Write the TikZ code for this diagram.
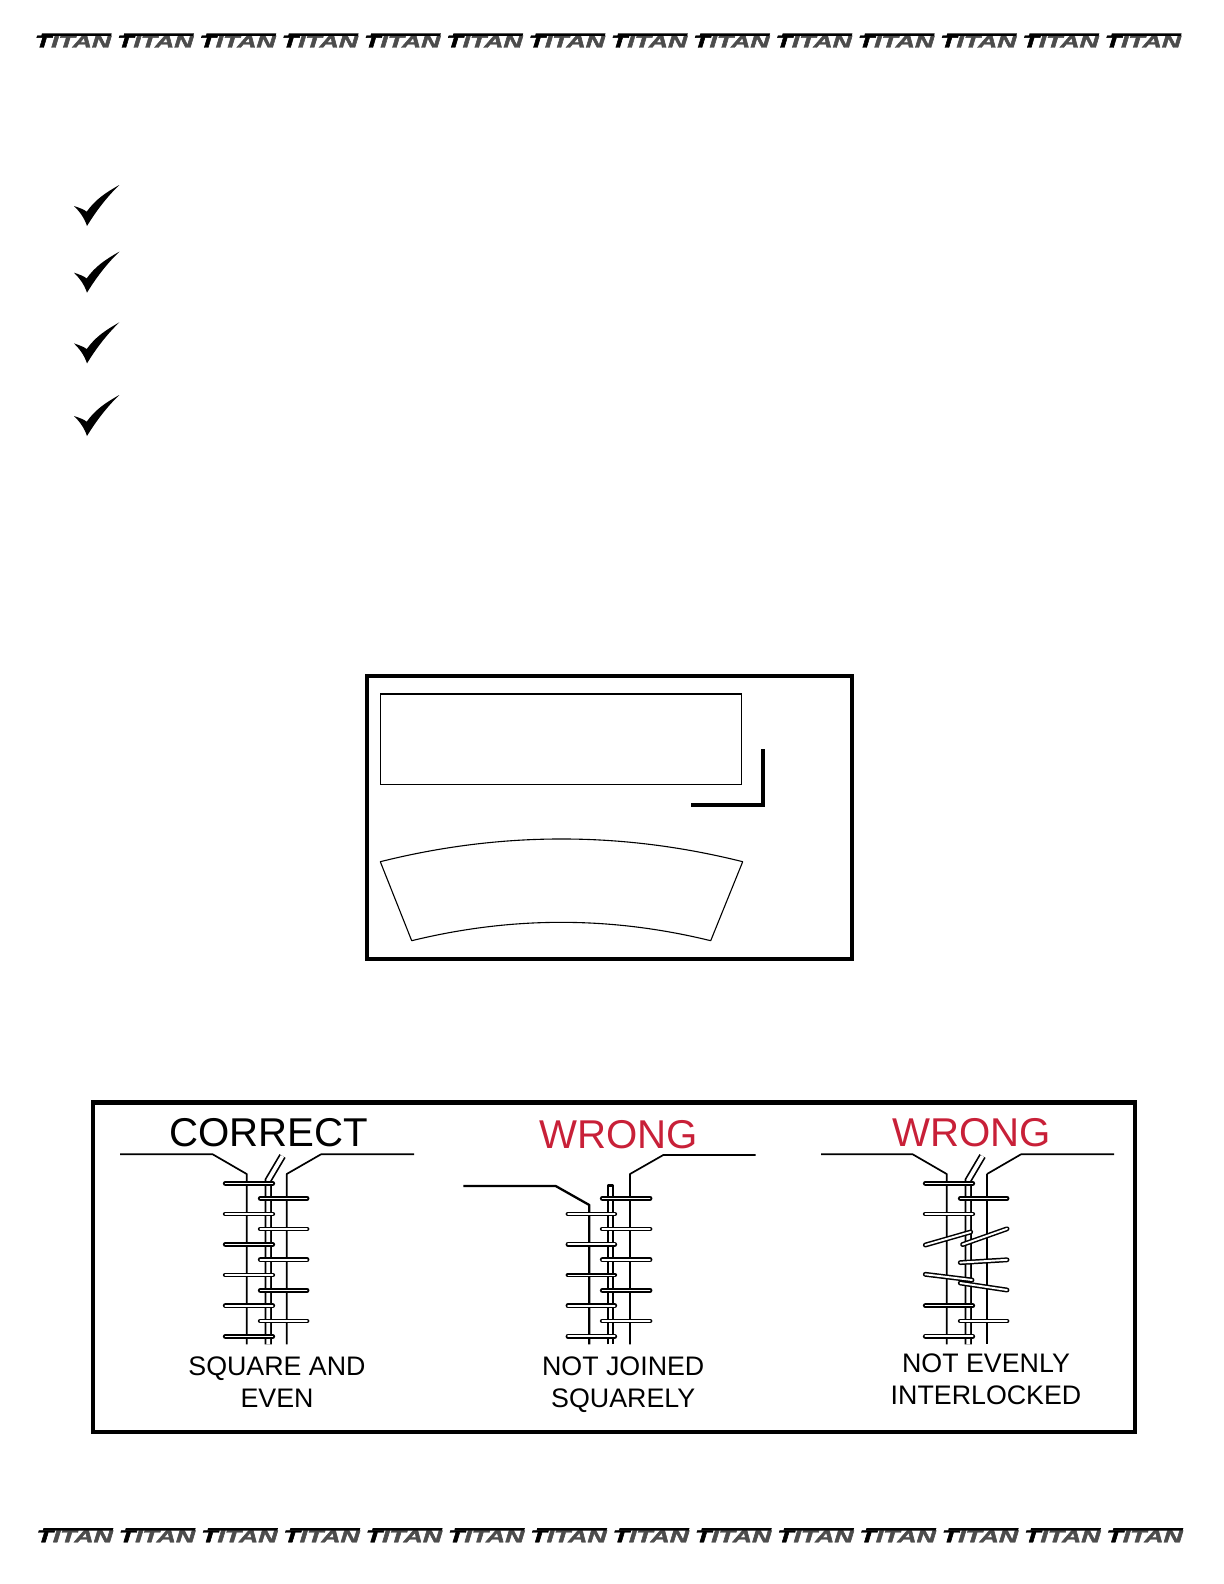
\documentclass[tikz,border=0pt]{standalone}
\usepackage{xcolor}
\usepackage{fontspec}
\setmainfont{Liberation Sans}
\newfontfamily\logofont[BoldItalicFeatures={FakeBold=2.2}]{Liberation Sans}
\usetikzlibrary{positioning}
\definecolor{wrongred}{RGB}{200,32,56}

\begin{document}
\begin{tikzpicture}[
    x=0.5pt, y=-0.5pt,
    frame/.style={draw, line width=2.15pt},
    thinbox/.style={draw, line width=0.55pt},
    edge/.style={draw, line width=0.85pt, line join=round},
    edgeb/.style={draw, line width=1.15pt, line join=round},
    tube/.style={draw, line width=0.85pt, double, double distance=1.9pt},
    rung/.style={draw, line cap=round, line width=0.75pt, double, double distance=0.95pt},
    rungdark/.style={draw, line cap=round, line width=1pt, double, double distance=0.45pt},
    head/.style={font=\fontsize{20.1}{22}\selectfont},
    capt/.style={font=\fontsize{13.4}{16}\selectfont, align=center},
    logotxt/.style={font=\fontsize{8.5}{9}\logofont\bfseries\itshape\selectfont, inner sep=0pt,
                text=black!70, transform shape, xscale=1.56},
    tick/.pic={\fill[black] (0,0) .. controls (6,2) and (10,3.5) .. (12.7,5.7)
        .. controls (21,-6) and (31,-13) .. (45.3,-21)
        .. controls (35,-11) and (24,2) .. (13,20)
        .. controls (10,11) and (5,5) .. (0,0) -- cycle;}
]
\useasboundingbox (0,0) rectangle (1224,1584);

% --- Logo strips ---
\foreach \i in {0,...,13} {
    \node[logotxt] (logotop\i) at (73+\i*82.3,41.6) {{\color{black}T}ITAN};
    \node[logotxt] (logobot\i) at (74.7+\i*82.3,1536.4) {{\color{black}T}ITAN};
    \fill (42+\i*82.3,33.3) -- (111.7+\i*82.3,33.3) -- (111+\i*82.3,35.8) -- (41.3+\i*82.3,35.8) -- cycle;
    \fill (43.5+\i*82.3,1528) -- (113.4+\i*82.3,1528) -- (112.7+\i*82.3,1530.5) -- (42.8+\i*82.3,1530.5) -- cycle;
}

% --- Check marks ---
\foreach \y in {206,272.7,343.4,416}
    \pic at (74,\y) {tick};

% --- Cut shapes ---
\draw[frame] (367,676) rectangle (852,959);
\draw[thinbox] (380.5,694) rectangle (741.7,784.5);
\draw[draw, line width=1.9pt, line join=miter] (691,805) -- (763,805) -- (763,749);
\draw[thinbox, line join=round] (380.3,861.7) .. controls (501.2,831.4) and (621.8,831.4) .. (742.7,861.7)
    -- (710.7,940.7) .. controls (610.7,916.2) and (511.7,916.2) .. (411.7,940.7) -- cycle;

% --- Seam panel ---
\draw[frame] (93,1102.5) rectangle (1135.3,1432);

% Correct
\node[head] (correct) at (268.7,1132.5) {CORRECT};
\draw[edge] (120,1154.3) -- (212.7,1154.3) -- (246.7,1174) -- (246.7,1344.3);
\draw[edge] (414,1154.3) -- (321,1154.3) -- (286.7,1174) -- (286.7,1344.3);
\draw[tube] (268.3,1344.3) -- (268.3,1180) -- (282.5,1156);
\foreach \y/\s in {1183.3/rungdark,1214/rung,1244.3/rungdark,1275/rung,1305.7/rung,1336.3/rungdark}
    \draw[\s] (225.3,\y) -- (272.7,\y);
\foreach \y/\s in {1198.3/rungdark,1229/rung,1259.7/rung,1290.3/rungdark,1321/rung}
    \draw[\s] (260.3,\y) -- (307,\y);
\node[capt] (square) at (277,1382.5) {SQUARE AND\\EVEN};

% Not joined
\node[head, text=wrongred] (wrongb) at (618.8,1134.5) {WRONG};
\draw[edgeb] (463.3,1186) -- (555.7,1186) -- (589.3,1205) -- (589.3,1344.3);
\draw[edge] (755.7,1155) -- (663.3,1155) -- (630,1174) -- (630,1344.3);
\draw[edgeb] (608.3,1344.3) -- (608.3,1185.5) -- (613.3,1185.5) -- (613.3,1344.3);
\foreach \y/\s in {1214/rung,1244.3/rung,1275/rungdark,1305.7/rung,1336.3/rung}
    \draw[\s] (568,\y) -- (614.7,\y);
\foreach \y/\s in {1198.3/rungdark,1229/rung,1259.7/rung,1290.3/rungdark,1321/rung}
    \draw[\s] (602.3,\y) -- (650,\y);
\node[capt] (joined) at (623.2,1384.5) {NOT JOINED\\SQUARELY};

% Not evenly interlocked
\node[head, text=wrongred] (wrongc) at (971.8,1132.5) {WRONG};
\draw[edge] (821,1154.3) -- (912.7,1154.3) -- (946.7,1174) -- (946.7,1344.3);
\draw[edge] (1114,1154.3) -- (1021,1154.3) -- (987,1174);
\draw[edgeb] (987,1174) -- (987,1344.3);
\draw[tube] (968.3,1344.3) -- (968.3,1180) -- (982.5,1156);
\foreach \a/\b/\c/\d/\s in {925.3/1183.3/972.7/1183.3/rungdark, 925.3/1214/972.7/1214/rung,
        925.3/1245/970.7/1232/rung, 925.3/1274.3/972/1280/rung,
        925.3/1305.7/972.7/1305.7/rungdark, 925.3/1336.3/972.7/1336.3/rung,
        960.3/1198.3/1007/1198.3/rungdark, 962.6/1244.5/1007/1228.8/rung,
        960.3/1262.6/1007/1259.8/rung, 960.3/1283/1007/1290/rung,
        960.3/1321/1007/1321/rung}
    \draw[\s] (\a,\b) -- (\c,\d);
\node[capt] (interlocked) at (986,1379.5) {NOT EVENLY\\INTERLOCKED};

\end{tikzpicture}
\end{document}
